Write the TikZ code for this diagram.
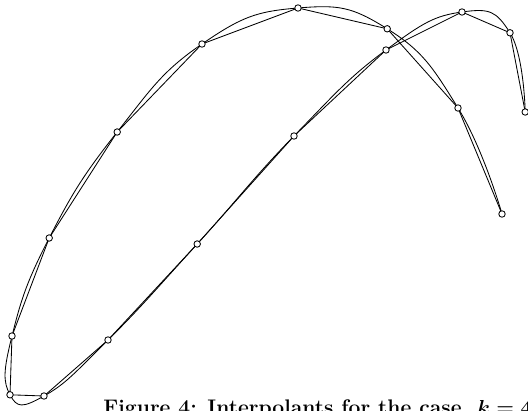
\documentclass[tikz,border=0pt]{standalone}
\begin{document}
\begin{tikzpicture}[x=1cm,y=1cm]
\tikzset{dot/.style={draw,circle,fill=white,inner sep=0pt,minimum size=4.6pt,line width=0.6pt}}
\useasboundingbox (0,0) rectangle (13.2,10.25);
\coordinate (q1) at (12.55,4.90);
\coordinate (q2) at (11.45,7.55);
\coordinate (q3) at (9.68,9.53);
\coordinate (q4) at (7.45,10.05);
\coordinate (q5) at (5.05,9.15);
\coordinate (q6) at (2.93,6.95);
\coordinate (q7) at (1.23,4.30);
\coordinate (q8) at (0.30,1.85);
\coordinate (q9) at (0.25,0.38);
\coordinate (q10) at (1.10,0.35);
\coordinate (q11) at (2.70,1.75);
\coordinate (q12) at (4.93,4.15);
\coordinate (q13) at (7.35,6.85);
\coordinate (q14) at (9.65,9.00);
\coordinate (q15) at (11.55,9.95);
\coordinate (q16) at (12.75,9.43);
\coordinate (q17) at (13.13,7.45);
\draw[line width=0.6pt] plot[smooth,tension=0.8] coordinates {(q1) (q2) (q3) (q4) (q5) (q6) (q7) (q8) (q9) (q10) (q11) (q12) (q13) (q14) (q15) (q16) (q17)};
\draw[line width=0.6pt] (q1) -- (q2) -- (q3) -- (q4) -- (q5) -- (q6) -- (q7) -- (q8) -- (q9) -- (q10) -- (q11) -- (q12) -- (q13) -- (q14) -- (q15) -- (q16) -- (q17);
\foreach \i in {1,...,17} \node[dot] (p\i) at (q\i) {};
\node[anchor=base west,inner sep=0pt,font=\fontsize{15}{17}\selectfont\bfseries\boldmath] (cap) at (2.58,-0.1) {Figure 4: Interpolants for the case\ \ $k=4$};
\end{tikzpicture}
\end{document}
